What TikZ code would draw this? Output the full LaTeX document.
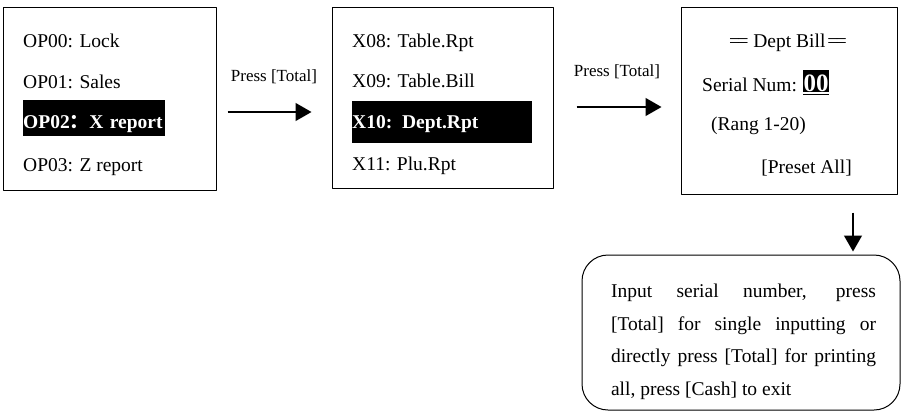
\documentclass[tikz,border=0pt]{standalone}
\usepackage{fontspec}
\setmainfont{Liberation Serif}
\newfontfamily\cjk{Noto Sans CJK SC}
\usetikzlibrary{arrows.meta}

\begin{document}
\begin{tikzpicture}[x=1pt, y=-1pt, line join=round, >={Triangle[length=16pt,width=18pt]},
		font=\fontsize{19.5}{23}\selectfont]
			\tikzset{screen/.style={draw, line width=1pt, inner sep=0pt},
				item/.style={anchor=base west, inner sep=0pt},
				hilite/.style={item, fill=black, text=white, font=\fontsize{19.5}{23}\selectfont\bfseries},
				flow/.style={->, line width=1.3pt},
				press/.style={font=\fontsize{17}{20}\selectfont}}
			\def \W{902}
			\def \H{413}
			\def \dbl{=\kern-2.5pt=}
			\useasboundingbox (0,0) rectangle (\W,\H);
			% screens
			\node[screen, minimum width=213pt, minimum height=183pt] (scr1) at (109.5,98.5) {};
			\node[screen, minimum width=221pt, minimum height=181pt] (scr2) at (442.5,97.5) {};
			\node[screen, minimum width=216pt, minimum height=187pt] (scr3) at (789,100.5) {};
			% first screen
			\foreach \t/\y [count=\i] in {OP00: Lock/47, OP01: Sales/88, OP03: Z report/171}
				\node[item] (op\i) at (23,\y) {\t};
			\node[hilite, text height=28pt, text depth=8pt, text width=142pt] (hl1) at (23,128) {OP02{\cjk ：}X report};
			% second screen
			\foreach \t/\y [count=\i] in {X08: Table.Rpt/47, X09: Table.Bill/87, X11: Plu.Rpt/170}
				\node[item] (x\i) at (352,\y) {\t};
			\node[hilite, text height=27pt, text depth=15pt, text width=180pt] (hl2) at (352,128) {X10: Dept.Rpt};
			% third screen
			\node[anchor=base, inner sep=0pt] (title) at (788,47) {\dbl{} Dept Bill\kern2pt\dbl};
			\node[item] (serial) at (702,91) {Serial Num:};
			\node[hilite, font=\fontsize{25}{25}\selectfont\bfseries, text height=21pt, text depth=1pt, inner xsep=0.5pt] (num) at (803,91) {00};
			\draw[line width=1pt] ([yshift=-2.5pt]num.south west) -- ([yshift=-2.5pt]num.south east);
			\node[item] (range) at (711,130) {(Rang 1-20)};
			\node[anchor=base east, inner sep=0pt] (preset) at (852,173) {[Preset All]};
			% note
			\node[draw, line width=1pt, rounded corners=26pt, minimum width=318pt, minimum height=155pt, inner sep=0pt] (note) at (741,332.5) {};
			\node[text width=265pt, align=justify, inner sep=0pt, font=\fontsize{19.5}{32.5}\selectfont] (notetext) at (743.5,342)
				{Input serial number, press\linebreak{} [Total] for single inputting or\linebreak{} directly press [Total] for printing all, press [Cash] to exit};
			% arrows
			\draw[flow, shorten <=11pt, shorten >=20pt] ([yshift=-13.5pt]scr1.east) -- node[press, yshift=35pt] (lab1) {Press [Total]} ([yshift=-14.5pt]scr2.west);
			\draw[flow, shorten <=23pt, shorten >=19pt] ([yshift=-9.5pt]scr2.east) -- node[press, yshift=35pt] (lab2) {Press [Total]} ([yshift=-6.5pt]scr3.west);
			\draw[flow, shorten <=18pt, shorten >=3pt] ([xshift=64pt]scr3.south) -- ([xshift=112pt]note.north);
		\end{tikzpicture}
\end{document}
